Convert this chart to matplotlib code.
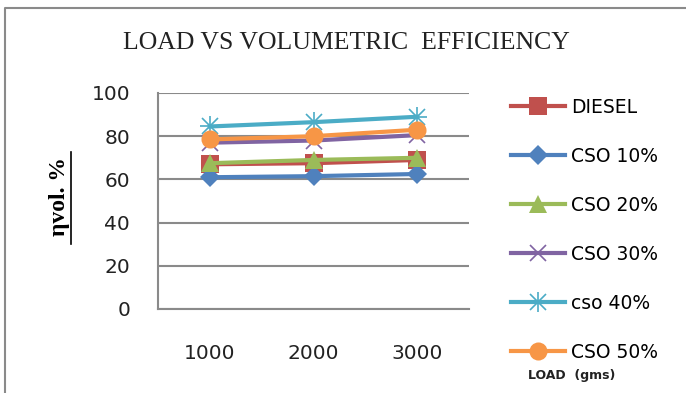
import matplotlib
matplotlib.use('Agg')
import matplotlib.pyplot as plt
from matplotlib.lines import Line2D

loads = ['1000', '2000', '3000']
diesel = [67, 67.5, 69]
cso10 = [61, 61.5, 62.5]
cso20 = [67.5, 69, 70]
cso30 = [77, 78, 80.5]
cso40 = [84.5, 86.5, 89]
cso50 = [78.5, 80, 83]

series = [
    ('DIESEL', diesel, '#C0504D', 's', 13),
    ('CSO 10%', cso10, '#4F81BD', 'D', 10),
    ('CSO 20%', cso20, '#9BBB59', '^', 13),
    ('CSO 30%', cso30, '#8064A2', 'x', 12),
    ('cso 40%', cso40, '#4BACC6', 'x', 12),
    ('CSO 50%', cso50, '#F79646', 'o', 13),
]

W, H = 686, 393
fig = plt.figure(figsize=(W / 100, H / 100), dpi=100)

# outer chart frame: top and left edges, drawn as one open path
fig.add_artist(Line2D([5 / W, 5 / W, 1.0], [0, 1 - 8 / H, 1 - 8 / H],
                      transform=fig.transFigure, color='#8a8a8a', lw=1.5))

ax = fig.add_axes([158 / W, 84 / H, 311 / W, 216 / H])
x = list(range(len(loads)))

handles = []
for name, vals, color, mk, ms in series:
    if mk == 'x':
        line, = ax.plot(x, vals, color=color, lw=3, marker=mk, markersize=ms,
                        markeredgewidth=1.2, markeredgecolor=color)
        if name == 'cso 40%':
            # asterisk = x plus +
            plus, = ax.plot(x, vals, linestyle='none', marker='+', markersize=ms * 1.25,
                            markeredgewidth=1.2, color=color)
            handles.append((line, plus))
            continue
    else:
        line, = ax.plot(x, vals, color=color, lw=3, marker=mk, markersize=ms,
                        markeredgewidth=0)
    handles.append(line)

ax.set_xlim(-0.5, 2.5)
ax.set_ylim(0, 100)
ax.set_yticks(range(0, 101, 20))
ax.set_xticks(x)
ax.set_xticklabels(loads)
ax.yaxis.grid(True, color='#8a8a8a', lw=1.5)
ax.set_axisbelow(True)
for s in ('top', 'right'):
    ax.spines[s].set_visible(False)
for s in ('left', 'bottom'):
    ax.spines[s].set_color('#8a8a8a')
    ax.spines[s].set_linewidth(1.5)
ax.tick_params(axis='both', length=0, labelsize=14.5, colors='#222222')
ax.tick_params(axis='y', pad=20)
ax.tick_params(axis='x', pad=25)

fig.text(346 / W, 1 - 43 / H, 'LOAD VS VOLUMETRIC  EFFICIENCY', family='Liberation Serif',
         fontsize=18.5, ha='center', va='center', color='#222222')

fig.text(60 / W, 1 - 197 / H, 'ηvol. %', family='Liberation Serif', fontsize=17,
         fontweight='bold', rotation=90, ha='center', va='center')
fig.add_artist(Line2D([71 / W, 71 / W], [1 - 152 / H, 1 - 244 / H],
                      transform=fig.transFigure, color='black', lw=1.2))

labels = [s[0] for s in series]
leg = fig.legend(handles, labels, loc='upper left', bbox_to_anchor=(511 / W, 1 - 98 / H),
                 frameon=False, fontsize=13.5, handlelength=2.9, handletextpad=0.3,
                 labelspacing=1.6, borderaxespad=0, borderpad=0)

fig.text(572 / W, 1 - 375 / H, 'LOAD  (gms)', fontsize=9, fontweight='bold',
         ha='center', va='center', color='#222222')

fig.savefig('out.png', dpi=100)
